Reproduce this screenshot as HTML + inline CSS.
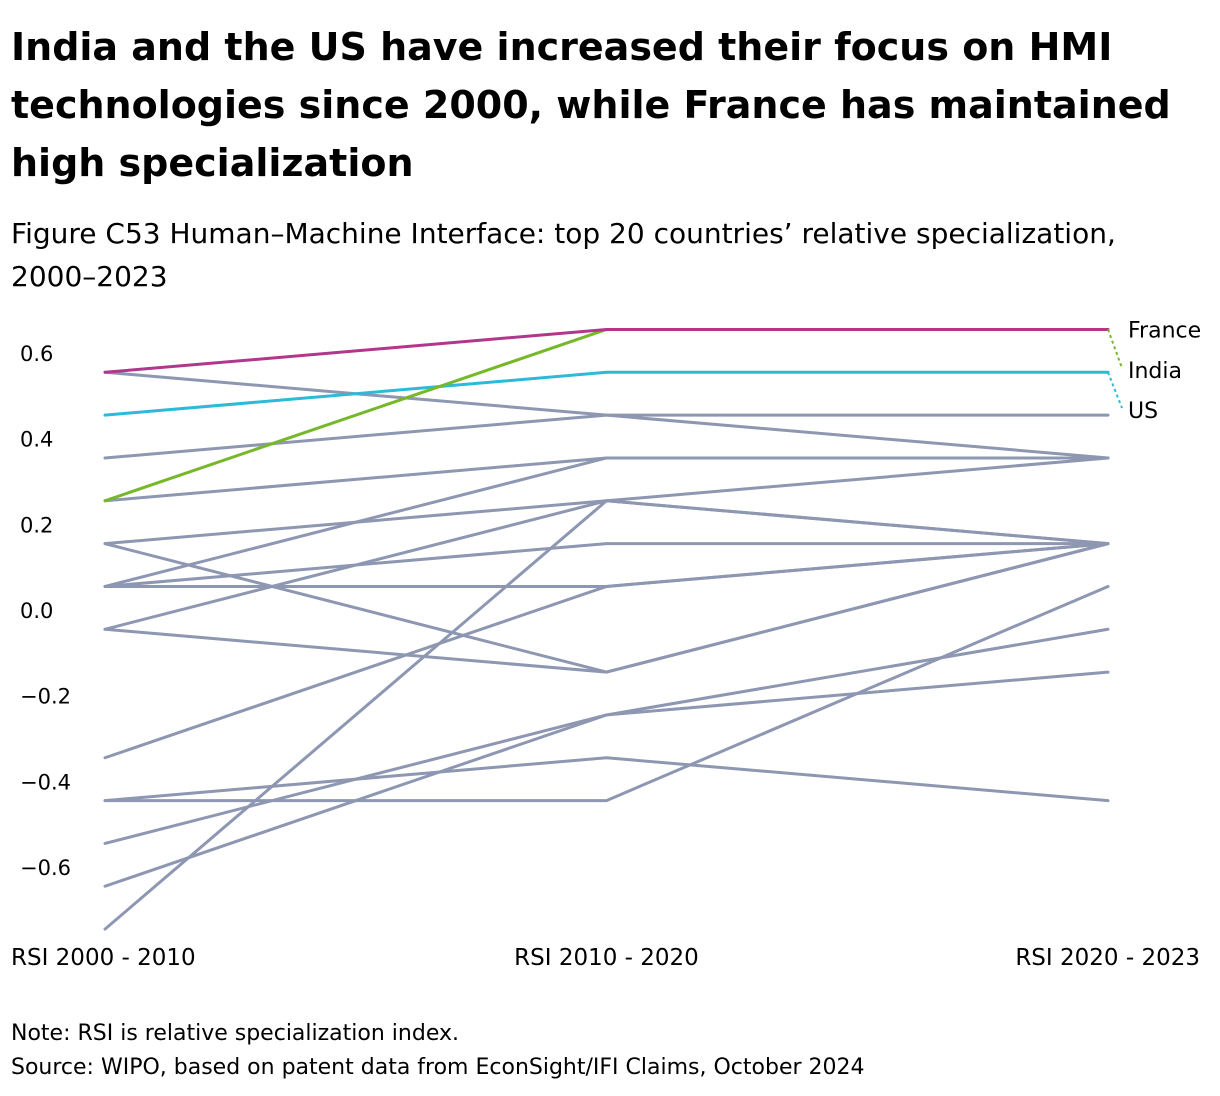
<!DOCTYPE html>
<html><head><meta charset="utf-8"><style>
body{margin:0;background:#fff;font-family:"DejaVu Sans","Liberation Sans",sans-serif;color:#000;}
.t{position:absolute;left:11px;top:18px;font-size:38px;font-weight:bold;line-height:58px;width:1200px}
.s{position:absolute;left:11px;top:212px;font-size:28px;line-height:43px;width:1205px;white-space:nowrap}
.n{position:absolute;left:11px;font-size:22px}
</style></head><body>
<div class="t">India and the US have increased their focus on HMI technologies since 2000, while France has maintained high specialization</div>
<div class="s">Figure C53 Human–Machine Interface: top 20 countries’ relative specialization,<br>2000–2023</div>
<svg id="c" width="1220" height="1096" style="position:absolute;left:0;top:0"></svg>
<div class="n" style="top:1021px">Note: RSI is relative specialization index.</div>
<div class="n" style="top:1055px">Source: WIPO, based on patent data from EconSight/IFI Claims, October 2024</div>
<script>
const categories=["RSI 2000 - 2010","RSI 2010 - 2020","RSI 2020 - 2023"];
const yTicks=[0.6,0.4,0.2,0.0,-0.2,-0.4,-0.6];
const greySeries=[
[0.555,0.455,0.355],[0.355,0.455,0.455],[0.255,0.355,0.355],[0.155,0.255,0.355],
[0.055,0.355,0.355],[0.155,-0.145,0.155],[0.055,0.155,0.155],[0.055,0.055,0.155],
[-0.045,0.255,0.155],[-0.045,-0.145,0.155],[-0.345,0.055,0.155],[-0.445,-0.345,-0.445],
[-0.445,-0.445,0.055],[-0.545,-0.245,-0.045],[-0.645,-0.245,-0.145],[-0.745,0.255,0.155]];
const franceValues=[0.555,0.655,0.655];
const indiaValues=[0.255,0.655,0.655];
const usValues=[0.455,0.555,0.555];
const svg=document.getElementById('c');const NS='http://www.w3.org/2000/svg';
const FF='DejaVu Sans, Liberation Sans, sans-serif';
const X=i=>105+i*501.5;const Y=v=>610-v*428.3;
function mk(t,a){const e=document.createElementNS(NS,t);for(const k in a)e.setAttribute(k,a[k]);svg.appendChild(e);return e;}
yTicks.forEach(v=>{const e=mk('text',{x:20,y:Y(v)+8,'font-size':21,'font-family':FF});e.textContent=(v<0?'−':'')+Math.abs(v).toFixed(1);

});
categories.forEach((c,i)=>{const e=mk('text',{x:i==0?11:(i==1?X(1):1200),y:965,'font-size':23,'text-anchor':i==0?'start':(i==1?'middle':'end'),'font-family':FF});e.textContent=c;

});
function line(vals,col,name){const p=mk('polyline',{points:vals.map((v,i)=>X(i)+','+Y(v)).join(' '),fill:'none',stroke:col,'stroke-width':3,'stroke-linejoin':'round','stroke-linecap':'round'});

}
greySeries.forEach(s=>line(s,'#8e97b2','country-line'));
line(usValues,'#2bbad8','us-line');
line(indiaValues,'#76b82a','india-line');
line(franceValues,'#b2368c','france-line');
const lab=[["France",franceValues[2],Y(franceValues[2]),'#76b82a'],["India",indiaValues[2],370,'#76b82a'],["US",usValues[2],410,'#2bbad8']];
lab.forEach((l,i)=>{if(i>0){const d=mk('line',{x1:X(2),y1:Y(l[1]),x2:1122,y2:l[2]-2,stroke:l[3],'stroke-width':2,'stroke-dasharray':'3,3'});

}
const e=mk('text',{x:1128,y:l[2]+8,'font-size':22,'font-family':FF});e.textContent=l[0];

});
</script>
</body></html>
